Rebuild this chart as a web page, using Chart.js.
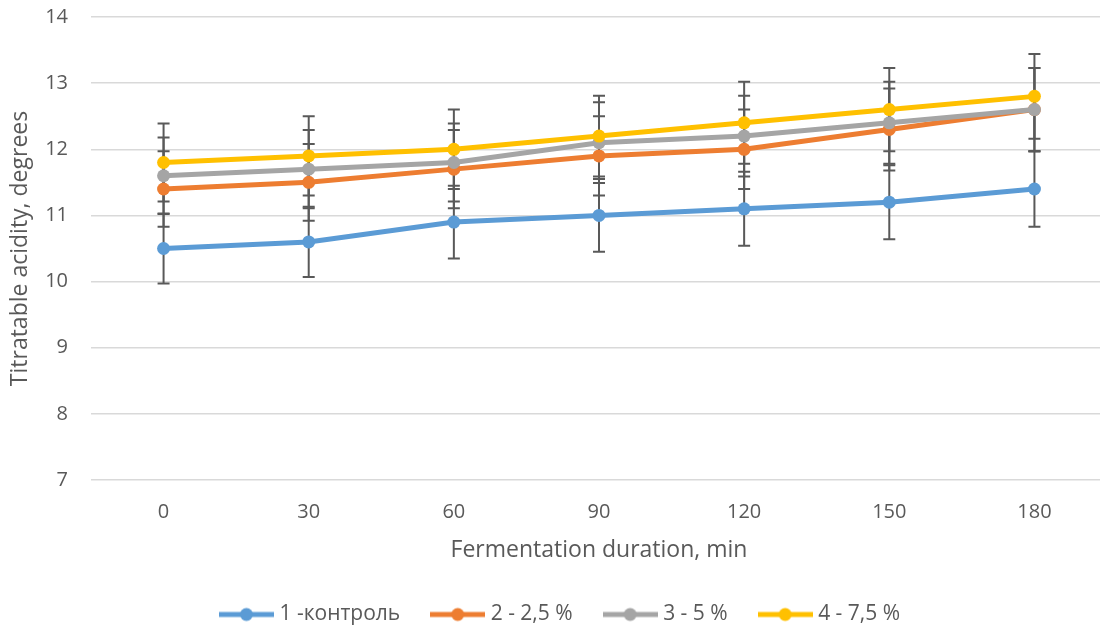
<!doctype html>
<html>
<head>
	<title>Titratable acidity</title>
	<script src="https://cdn.jsdelivr.net/npm/chart.js@4/dist/chart.umd.min.js"></script>
	<style>
	html, body {
		margin: 0;
		padding: 0;
		overflow: hidden;
		background: #fff;
	}
	canvas {
		display: block;
	}
	</style>
</head>
<body>
	<canvas id="chart" width="1107" height="625"></canvas>
	<script>
		var durations = ['0', '30', '60', '90', '120', '150', '180'];

		var control = [10.5, 10.6, 10.9, 11.0, 11.1, 11.2, 11.4];
		var dose25 = [11.4, 11.5, 11.7, 11.9, 12.0, 12.3, 12.6];
		var dose5 = [11.6, 11.7, 11.8, 12.1, 12.2, 12.4, 12.6];
		var dose75 = [11.8, 11.9, 12.0, 12.2, 12.4, 12.6, 12.8];

		// error bar half-lengths
		var controlErr = [0.53, 0.53, 0.55, 0.55, 0.56, 0.56, 0.57];
		var dose25Err = [0.57, 0.58, 0.59, 0.60, 0.60, 0.62, 0.63];
		var dose5Err = [0.58, 0.59, 0.59, 0.61, 0.61, 0.62, 0.63];
		var dose75Err = [0.59, 0.60, 0.60, 0.61, 0.62, 0.63, 0.64];

		var textColor = '#595959';
		var fontFamily = '"Open Sans", sans-serif';

		// line + dot swatch for the legend
		function legendMarker(color) {
			var c = document.createElement('canvas');
			c.width = 55;
			c.height = 16;
			var g = c.getContext('2d');
			g.strokeStyle = color;
			g.lineWidth = 5;
			g.beginPath();
			g.moveTo(0, 8);
			g.lineTo(55, 8);
			g.stroke();
			g.fillStyle = color;
			g.beginPath();
			g.arc(27.5, 8, 6.5, 0, Math.PI * 2);
			g.fill();
			return c;
		}

		function series(label, data, err, color, order) {
			return {
				label: label,
				data: data,
				errors: err,
				order: order,
				borderColor: color,
				backgroundColor: color,
				borderWidth: 5,
				pointRadius: 6.5,
				pointHoverRadius: 6.5,
				pointBorderWidth: 0,
				pointStyle: 'circle',
				tension: 0
			};
		}

		var errorBars = {
			id: 'errorBars',
			beforeDatasetsDraw: function(chart) {
				var ctx = chart.ctx;
				var y = chart.scales.y;
				ctx.save();
				ctx.strokeStyle = '#595959';
				ctx.lineWidth = 2;
				chart.data.datasets.forEach(function(ds, i) {
					var meta = chart.getDatasetMeta(i);
					meta.data.forEach(function(pt, j) {
						var top = y.getPixelForValue(ds.data[j] + ds.errors[j]);
						var bottom = y.getPixelForValue(ds.data[j] - ds.errors[j]);
						ctx.beginPath();
						ctx.moveTo(pt.x, top);
						ctx.lineTo(pt.x, bottom);
						ctx.moveTo(pt.x - 6, top);
						ctx.lineTo(pt.x + 6, top);
						ctx.moveTo(pt.x - 6, bottom);
						ctx.lineTo(pt.x + 6, bottom);
						ctx.stroke();
					});
				});
				ctx.restore();
			}
		};

		window.onload = function() {
			var ctx = document.getElementById('chart').getContext('2d');
			new Chart(ctx, {
				type: 'line',
				data: {
					labels: durations,
					datasets: [
						series('1 -контроль', control, controlErr, '#5b9bd5', 4),
						series('2 - 2,5 %', dose25, dose25Err, '#ed7d31', 3),
						series('3 - 5 %', dose5, dose5Err, '#a5a5a5', 2),
						series('4 - 7,5 %', dose75, dose75Err, '#ffc000', 1)
					]
				},
				options: {
					responsive: false,
					animation: false,
					layout: {
						autoPadding: false,
						padding: { top: 17, left: 17, right: 0, bottom: -10 }
					},
					plugins: {
						legend: {
							position: 'bottom',
							labels: {
								usePointStyle: true,
								pointStyleWidth: 45,
								padding: 35,
								color: textColor,
								font: { family: fontFamily, size: 21 },
								generateLabels: function(chart) {
									return chart.data.datasets.map(function(ds, i) {
										return {
											text: ds.label,
											datasetIndex: i,
											fillStyle: ds.borderColor,
											strokeStyle: ds.borderColor,
											fontColor: textColor,
											lineWidth: 0,
											pointStyle: legendMarker(ds.borderColor),
											hidden: false
										};
									});
								}
							}
						},
						tooltip: { enabled: false }
					},
					scales: {
						x: {
							offset: true,
							grid: { display: false, drawTicks: false },
							border: { display: false },
							ticks: {
								color: textColor,
								padding: 20,
								font: { family: fontFamily, size: 20 }
							},
							title: {
								display: true,
								text: 'Fermentation duration, min',
								color: textColor,
								font: { family: fontFamily, size: 23 },
								padding: { top: 12, bottom: 4.5 }
							},
							afterFit: function(scale) {
								scale.height = 89;
								scale.paddingLeft = 0;
								scale.paddingRight = 0;
							}
						},
						y: {
							min: 7,
							max: 14,
							grid: { color: '#d9d9d9', lineWidth: 1.5, drawTicks: false },
							border: { display: false },
							ticks: {
								stepSize: 1,
								color: textColor,
								padding: 23,
								font: { family: fontFamily, size: 20 }
							},
							title: {
								display: true,
								text: 'Titratable acidity, degrees',
								color: textColor,
								font: { family: fontFamily, size: 23 },
								padding: { top: -10, bottom: 0 }
							},
							afterFit: function(scale) {
								scale.width = 74;
								scale.paddingTop = 0;
								scale.paddingBottom = 0;
							}
						}
					}
				},
				plugins: [errorBars]
			});
		};
	</script>
</body>
</html>
